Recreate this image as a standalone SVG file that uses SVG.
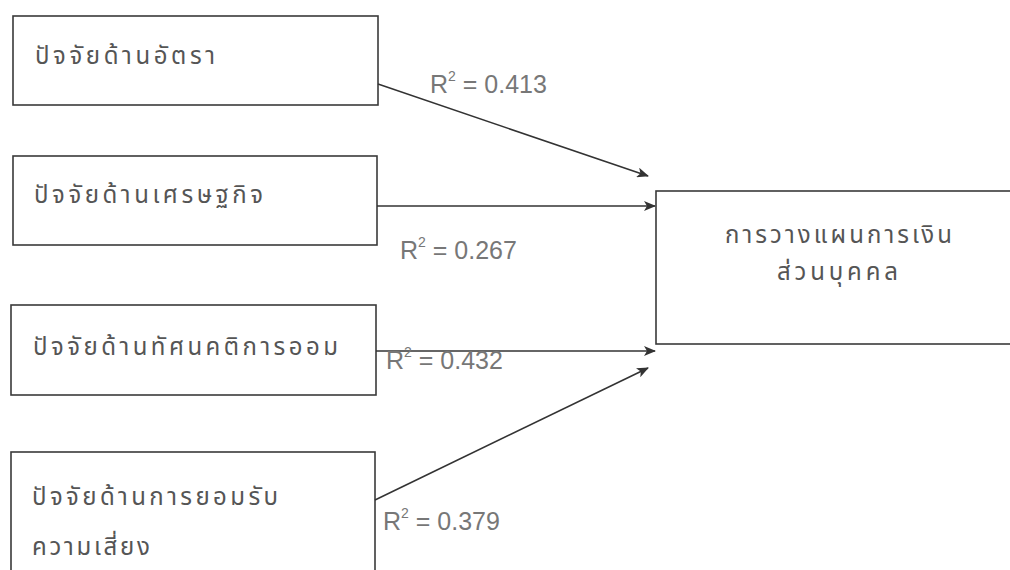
<svg xmlns="http://www.w3.org/2000/svg" width="1010" height="570" viewBox="0 0 1010 570">
<style>
.box{fill:#fff;stroke:#3a3a3a;stroke-width:1.6}
.t{font-family:"Noto Sans Thai","Noto Sans","Liberation Sans",sans-serif;font-size:24px;fill:#555}
.r{font-family:"Liberation Sans",Arial,sans-serif;font-size:25px;fill:#777}
.s{font-size:14px}
.c{stroke:#333;stroke-width:1.6;fill:none;marker-end:url(#ah)}
</style>
<defs>
<marker id="ah" markerWidth="12" markerHeight="10" refX="11" refY="5" orient="auto" markerUnits="userSpaceOnUse">
<path d="M0,0 L12,5 L0,10 L3,5 Z" fill="#333"/>
</marker>
</defs>
<rect width="1010" height="570" fill="#fff"/>
<g id="n1"><rect class="box" x="13" y="16" width="365" height="89"/><text class="t" x="35" y="64" textLength="180" lengthAdjust="spacing">ปัจจัยด้านอัตรา</text></g>
<g id="n2"><rect class="box" x="13" y="156" width="364" height="89"/><text class="t" x="34" y="203" textLength="229" lengthAdjust="spacing">ปัจจัยด้านเศรษฐกิจ</text></g>
<g id="n3"><rect class="box" x="11" y="305" width="365" height="90"/><text class="t" x="33" y="355" textLength="305" lengthAdjust="spacing">ปัจจัยด้านทัศนคติการออม</text></g>
<g id="n4"><rect class="box" x="11" y="452" width="364" height="130"/><text class="t" x="32" y="505" textLength="246" lengthAdjust="spacing">ปัจจัยด้านการยอมรับ</text><text class="t" x="32" y="555" textLength="118" lengthAdjust="spacing">ความเสี่ยง</text></g>
<g id="n5"><rect class="box" x="656" y="191" width="360" height="153"/><text class="t" x="725" y="243" textLength="227" lengthAdjust="spacing">การวางแผนการเงิน</text><text class="t" x="777" y="280" textLength="121" lengthAdjust="spacing">ส่วนบุคคล</text></g>
<g id="connectors">
<line class="c" x1="378" y1="84" x2="648" y2="176"/>
<line class="c" x1="377" y1="206" x2="655" y2="206"/>
<line class="c" x1="376" y1="351" x2="655" y2="351"/>
<line class="c" x1="375" y1="500" x2="648" y2="368"/>
<text class="r" x="430" y="93">R<tspan class="s" dy="-12">2</tspan><tspan dy="12"> = 0.413</tspan></text>
<text class="r" x="400" y="259">R<tspan class="s" dy="-12">2</tspan><tspan dy="12">  = 0.267</tspan></text>
<text class="r" x="386" y="369">R<tspan class="s" dy="-12">2</tspan><tspan dy="12"> = 0.432</tspan></text>
<text class="r" x="383" y="530">R<tspan class="s" dy="-12">2</tspan><tspan dy="12"> = 0.379</tspan></text>
</g>
</svg>
